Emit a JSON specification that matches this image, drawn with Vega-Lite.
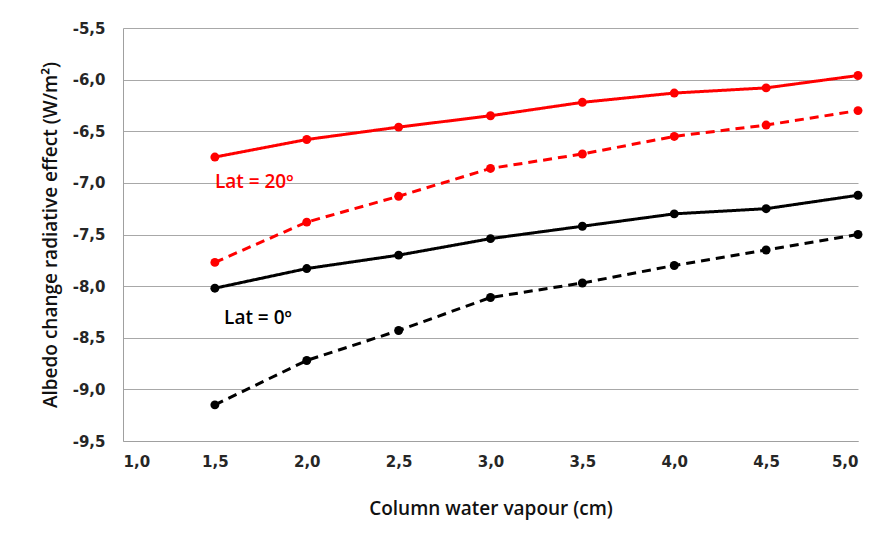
{
  "$schema": "https://vega.github.io/schema/vega-lite/v6.json",
  "width": 735,
  "height": 413,
  "autosize": "none",
  "padding": {"left": 123, "top": 28, "right": 36, "bottom": 99},
  "background": "white",
  "config": {
    "locale": {"number": {"decimal": ",", "thousands": ".", "grouping": [3], "currency": ["", " €"], "minus": "-"}},
    "view": {"stroke": null},
    "axis": {"labelFont": "DejaVu Sans", "labelFontWeight": "bold", "labelFontSize": 15, "labelColor": "#262626", "domainColor": "#a0a0a0", "ticks": false}
  },
  "datasets": {
    "pts": [
      {"x": 1.5, "y": -6.75, "s": "r20"}, {"x": 2.0, "y": -6.58, "s": "r20"}, {"x": 2.5, "y": -6.46, "s": "r20"}, {"x": 3.0, "y": -6.35, "s": "r20"},
      {"x": 3.5, "y": -6.22, "s": "r20"}, {"x": 4.0, "y": -6.13, "s": "r20"}, {"x": 4.5, "y": -6.08, "s": "r20"}, {"x": 5.0, "y": -5.96, "s": "r20"},
      {"x": 1.5, "y": -7.77, "s": "r20d"}, {"x": 2.0, "y": -7.38, "s": "r20d"}, {"x": 2.5, "y": -7.13, "s": "r20d"}, {"x": 3.0, "y": -6.86, "s": "r20d"},
      {"x": 3.5, "y": -6.72, "s": "r20d"}, {"x": 4.0, "y": -6.55, "s": "r20d"}, {"x": 4.5, "y": -6.44, "s": "r20d"}, {"x": 5.0, "y": -6.3, "s": "r20d"},
      {"x": 1.5, "y": -8.02, "s": "b0"}, {"x": 2.0, "y": -7.83, "s": "b0"}, {"x": 2.5, "y": -7.7, "s": "b0"}, {"x": 3.0, "y": -7.54, "s": "b0"},
      {"x": 3.5, "y": -7.42, "s": "b0"}, {"x": 4.0, "y": -7.3, "s": "b0"}, {"x": 4.5, "y": -7.25, "s": "b0"}, {"x": 5.0, "y": -7.12, "s": "b0"},
      {"x": 1.5, "y": -9.15, "s": "b0d"}, {"x": 2.0, "y": -8.72, "s": "b0d"}, {"x": 2.5, "y": -8.43, "s": "b0d"}, {"x": 3.0, "y": -8.11, "s": "b0d"},
      {"x": 3.5, "y": -7.97, "s": "b0d"}, {"x": 4.0, "y": -7.8, "s": "b0d"}, {"x": 4.5, "y": -7.65, "s": "b0d"}, {"x": 5.0, "y": -7.5, "s": "b0d"}
    ],
    "labels": [
      {"x": 1.5, "y": -6.99, "t": "Lat = 20º", "c": "r"},
      {"x": 1.55, "y": -8.31, "t": "Lat = 0º", "c": "b"}
    ]
  },
  "layer": [
    {
      "data": {"name": "pts"},
      "mark": {"type": "line", "strokeWidth": 3, "point": {"filled": true, "size": 80}},
      "encoding": {
        "x": {"field": "x", "type": "quantitative", "scale": {"domain": [1, 5], "nice": false, "zero": false},
          "axis": {"values": [1, 1.5, 2, 2.5, 3, 3.5, 4, 4.5, 5], "format": ".1f", "grid": false, "labelPadding": 13,
            "title": "Column water vapour (cm)", "titleFont": "Open Sans", "titleFontSize": 19, "titleFontWeight": 600, "titleColor": "#111", "titlePadding": 30}},
        "y": {"field": "y", "type": "quantitative", "scale": {"domain": [-9.5, -5.5], "nice": false, "zero": false},
          "axis": {"values": [-9.5, -9, -8.5, -8, -7.5, -7, -6.5, -6, -5.5], "format": ".1f", "grid": true, "gridColor": "#a8a8a8", "gridWidth": 1, "labelPadding": 18,
            "title": "Albedo change radiative effect (W/m²)", "titleFont": "Open Sans", "titleFontSize": 19, "titleFontWeight": 600, "titleColor": "#111", "titlePadding": 12}},
        "color": {"field": "s", "type": "nominal", "scale": {"domain": ["r20", "r20d", "b0", "b0d"], "range": ["#ff0000", "#ff0000", "#000000", "#000000"]}, "legend": null},
        "strokeDash": {"field": "s", "type": "nominal", "scale": {"domain": ["r20", "r20d", "b0", "b0d"], "range": [[1, 0], [9, 6], [1, 0], [9, 6]]}, "legend": null}
      }
    },
    {
      "data": {"name": "labels"},
      "mark": {"type": "text", "align": "left", "baseline": "middle", "font": "Open Sans", "fontWeight": 600, "fontSize": 19},
      "encoding": {
        "x": {"field": "x", "type": "quantitative"},
        "y": {"field": "y", "type": "quantitative"},
        "text": {"field": "t"},
        "color": {"field": "c", "type": "nominal", "scale": {"domain": ["r", "b"], "range": ["#ff0000", "#000000"]}, "legend": null}
      }
    }
  ],
  "resolve": {"scale": {"color": "independent"}}
}
